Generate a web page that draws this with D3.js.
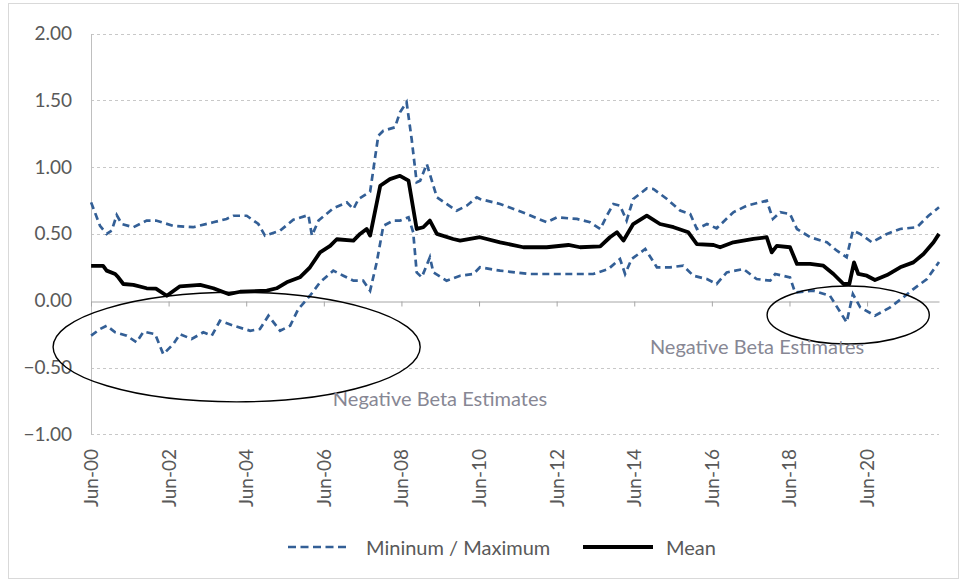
<!DOCTYPE html>
<html>
<head>
<meta charset="utf-8">
<script src="https://cdn.jsdelivr.net/npm/d3@7"></script>
<style>
  html, body { margin: 0; padding: 0; background: #fff; }
  svg { display: block; }
</style>
</head>
<body>
<svg id="chart" width="961" height="580"></svg>
<script>
// ---- data (x = decimal year, y = beta estimate) ----
const meanSeries = [
  [2000.42,0.26],[2000.73,0.26],[2000.82,0.225],[2001.04,0.20],[2001.12,0.175],[2001.25,0.125],
  [2001.51,0.118],[2001.85,0.093],[2002.09,0.09],[2002.37,0.037],[2002.71,0.108],[2003.23,0.118],
  [2003.57,0.093],[2003.96,0.05],[2004.26,0.067],[2004.95,0.075],[2005.20,0.093],[2005.46,0.138],
  [2005.80,0.175],[2006.06,0.25],[2006.32,0.362],[2006.58,0.41],[2006.75,0.46],[2007.18,0.45],
  [2007.35,0.50],[2007.52,0.537],[2007.61,0.487],[2007.87,0.86],[2008.12,0.91],[2008.38,0.935],
  [2008.60,0.898],[2008.81,0.537],[2008.98,0.55],[2009.15,0.60],[2009.33,0.50],[2009.75,0.462],
  [2009.93,0.45],[2010.44,0.475],[2010.96,0.437],[2011.56,0.40],[2012.16,0.40],[2012.72,0.417],
  [2013.02,0.40],[2013.54,0.407],[2013.79,0.475],[2013.97,0.512],[2014.14,0.45],[2014.39,0.574],
  [2014.74,0.636],[2015.08,0.574],[2015.43,0.55],[2015.81,0.512],[2016.03,0.424],[2016.46,0.417],
  [2016.63,0.40],[2016.97,0.437],[2017.49,0.462],[2017.83,0.475],[2017.96,0.362],[2018.09,0.41],
  [2018.43,0.40],[2018.61,0.275],[2018.95,0.275],[2019.29,0.262],[2019.55,0.20],[2019.81,0.125],
  [2019.96,0.125],[2020.08,0.287],[2020.19,0.20],[2020.41,0.187],[2020.62,0.155],[2020.93,0.192],
  [2021.27,0.25],[2021.61,0.287],[2021.87,0.35],[2022.13,0.437],[2022.27,0.50]
];
const maxSeries = [
  [2000.42,0.736],[2000.65,0.56],[2000.82,0.50],[2000.95,0.524],[2001.08,0.641],[2001.21,0.574],
  [2001.51,0.55],[2001.85,0.60],[2002.09,0.60],[2002.54,0.56],[2003.05,0.55],[2003.57,0.587],
  [2003.91,0.612],[2004.09,0.636],[2004.43,0.636],[2004.73,0.574],[2004.90,0.487],[2005.29,0.524],
  [2005.63,0.606],[2006.02,0.641],[2006.11,0.487],[2006.28,0.60],[2006.66,0.692],[2007.01,0.736],
  [2007.18,0.686],[2007.31,0.761],[2007.61,0.816],[2007.82,1.235],[2007.95,1.272],[2008.25,1.298],
  [2008.38,1.41],[2008.55,1.485],[2008.68,1.21],[2008.81,0.886],[2008.90,0.898],[2009.07,1.023],
  [2009.24,0.86],[2009.33,0.774],[2009.58,0.724],[2009.84,0.674],[2010.10,0.711],[2010.36,0.774],
  [2010.44,0.761],[2010.96,0.724],[2011.65,0.649],[2012.16,0.587],[2012.42,0.624],[2012.94,0.612],
  [2013.28,0.587],[2013.54,0.537],[2013.71,0.636],[2013.88,0.724],[2014.05,0.711],[2014.22,0.60],
  [2014.39,0.761],[2014.74,0.841],[2014.91,0.836],[2015.26,0.761],[2015.60,0.674],[2015.86,0.649],
  [2016.03,0.537],[2016.29,0.574],[2016.54,0.542],[2016.97,0.662],[2017.32,0.711],[2017.83,0.749],
  [2017.99,0.612],[2018.18,0.662],[2018.43,0.649],[2018.61,0.537],[2018.95,0.475],[2019.38,0.437],
  [2019.64,0.374],[2019.89,0.325],[2020.05,0.524],[2020.24,0.50],[2020.54,0.437],[2020.93,0.50],
  [2021.27,0.537],[2021.70,0.55],[2022.00,0.636],[2022.27,0.699]
];
const minSeries = [
  [2000.42,-0.262],[2000.65,-0.212],[2000.82,-0.187],[2001.04,-0.237],[2001.34,-0.262],[2001.59,-0.312],
  [2001.77,-0.232],[2002.07,-0.25],[2002.28,-0.40],[2002.54,-0.324],[2002.71,-0.25],[2003.01,-0.287],
  [2003.31,-0.237],[2003.53,-0.262],[2003.74,-0.15],[2004.09,-0.187],[2004.52,-0.225],[2004.77,-0.212],
  [2004.99,-0.112],[2005.29,-0.225],[2005.55,-0.187],[2005.76,-0.062],[2006.06,0.037],[2006.32,0.138],
  [2006.66,0.225],[2006.92,0.187],[2007.18,0.15],[2007.43,0.15],[2007.61,0.075],[2007.78,0.287],
  [2007.95,0.56],[2008.21,0.60],[2008.38,0.60],[2008.60,0.624],[2008.72,0.512],[2008.81,0.212],
  [2008.94,0.175],[2009.15,0.325],[2009.24,0.212],[2009.58,0.15],[2009.93,0.187],[2010.27,0.20],
  [2010.44,0.25],[2010.96,0.225],[2011.73,0.20],[2012.59,0.20],[2013.36,0.20],[2013.75,0.237],
  [2014.05,0.312],[2014.18,0.20],[2014.35,0.312],[2014.70,0.387],[2015.00,0.25],[2015.34,0.25],
  [2015.68,0.262],[2015.94,0.187],[2016.29,0.162],[2016.54,0.125],[2016.80,0.212],[2017.23,0.237],
  [2017.57,0.162],[2017.92,0.15],[2018.05,0.20],[2018.43,0.175],[2018.56,0.062],[2019.03,0.075],
  [2019.46,0.037],[2019.89,-0.162],[2020.05,0.05],[2020.24,-0.05],[2020.62,-0.112],[2021.01,-0.05],
  [2021.35,0.025],[2021.61,0.087],[2021.96,0.162],[2022.27,0.29]
];
const xTickYears = [2000,2002,2004,2006,2008,2010,2012,2014,2016,2018,2020];
const xTickLabels = ["Jun-00","Jun-02","Jun-04","Jun-06","Jun-08","Jun-10","Jun-12","Jun-14","Jun-16","Jun-18","Jun-20"];
const yTickValues = [-1.0,-0.5,0.0,0.5,1.0,1.5,2.0];
const legendLabels = ["Mininum / Maximum","Mean"];
// annotations: [centre year, centre value, radius (years), radius (value)]
const ellipses = [[2004.17,-0.347,4.73,0.41],[2019.93,-0.107,2.09,0.217]];
const noteLabels = [["Negative Beta Estimates",2006.65,-0.728],["Negative Beta Estimates",2014.82,-0.34]];

// ---- drawing ----
const svg = d3.select("#chart");
const FONT = "Lato, 'Open Sans', sans-serif";
const BLUE = "#335f96";
const x = d3.scaleLinear().domain([2000.417, 2022.27]).range([91, 939]);
const y = d3.scaleLinear().domain([-1, 2]).range([434.3, 33.5]);

// outer border
svg.append("rect").attr("x",8.5).attr("y",3.5).attr("width",950).attr("height",575)
  .attr("fill","#fff").attr("stroke","#d9d9d9");

// gridlines
svg.append("g").selectAll("line").data(yTickValues.filter(v => v !== 0)).join("line")
  .attr("x1", x.range()[0]).attr("x2", x.range()[1])
  .attr("y1", d => Math.round(y(d)) + 0.5).attr("y2", d => Math.round(y(d)) + 0.5)
  .attr("stroke","#c8c8c8").attr("stroke-width",1).attr("stroke-dasharray","3,3");

// y axis
const yAxis = d3.axisLeft(y).tickValues(yTickValues).tickFormat(d3.format(".2f")).tickSize(0).tickPadding(19);
const gy = svg.append("g").attr("transform",`translate(${x.range()[0]},0)`).call(yAxis);
gy.select(".domain").attr("stroke","#bfbfbf");
gy.selectAll("text").attr("font-family",FONT).attr("font-size",19).attr("fill","#595959");

// x axis at zero
const tickPos = xTickYears.map(yr => yr + 5/12);
const xAxis = d3.axisBottom(x).tickValues(tickPos).tickFormat((d,i) => xTickLabels[i]).tickSize(5).tickSizeOuter(0).tickPadding(0);
const gx = svg.append("g").attr("transform",`translate(0,${Math.round(y(0))+0.5})`).call(xAxis);
gx.select(".domain").attr("stroke","#a6a6a6");
gx.selectAll(".tick line").attr("stroke","#a6a6a6");
gx.selectAll("text").remove();

// x tick labels (rotated) below the plot
svg.append("g").selectAll("text").data(tickPos).join("text")
  .attr("transform", d => `translate(${x(d)+7},449) rotate(-90)`)
  .attr("text-anchor","end")
  .attr("font-family",FONT).attr("font-size",19).attr("fill","#595959")
  .text((d,i) => xTickLabels[i]);

// lines
const line = d3.line().x(d => x(d[0])).y(d => y(d[1]));
[maxSeries, minSeries].forEach(s => {
  svg.append("path").datum(s).attr("d",line).attr("fill","none")
    .attr("stroke",BLUE).attr("stroke-width",2.7).attr("stroke-dasharray","7,4.5");
});
svg.append("path").datum(meanSeries).attr("d",line).attr("fill","none")
  .attr("stroke","#000").attr("stroke-width",3.8).attr("stroke-linejoin","round");

// annotations
svg.append("g").selectAll("ellipse").data(ellipses).join("ellipse")
  .attr("cx", d => x(d[0])).attr("cy", d => y(d[1]))
  .attr("rx", d => x(d[0]+d[2]) - x(d[0])).attr("ry", d => y(d[1]-d[3]) - y(d[1]))
  .attr("fill","none").attr("stroke","#000").attr("stroke-width",1.4);
svg.append("g").selectAll("text").data(noteLabels).join("text")
  .attr("x", d => x(d[1])).attr("y", d => y(d[2]))
  .attr("dominant-baseline","central")
  .attr("font-family",FONT).attr("font-size",20).attr("fill","#878794")
  .text(d => d[0]);

// legend
const lg = svg.append("g");
lg.append("line").attr("x1",288).attr("x2",350).attr("y1",547).attr("y2",547)
  .attr("stroke",BLUE).attr("stroke-width",2.7).attr("stroke-dasharray","8,4.5");
lg.append("text").attr("x",366).attr("y",547).attr("dominant-baseline","central")
  .attr("font-family",FONT).attr("font-size",20).attr("fill","#595959").text(legendLabels[0]);
lg.append("line").attr("x1",583).attr("x2",653).attr("y1",547).attr("y2",547)
  .attr("stroke","#000").attr("stroke-width",3.8);
lg.append("text").attr("x",666).attr("y",547).attr("dominant-baseline","central")
  .attr("font-family",FONT).attr("font-size",20).attr("fill","#595959").text(legendLabels[1]);
</script>
</body>
</html>
